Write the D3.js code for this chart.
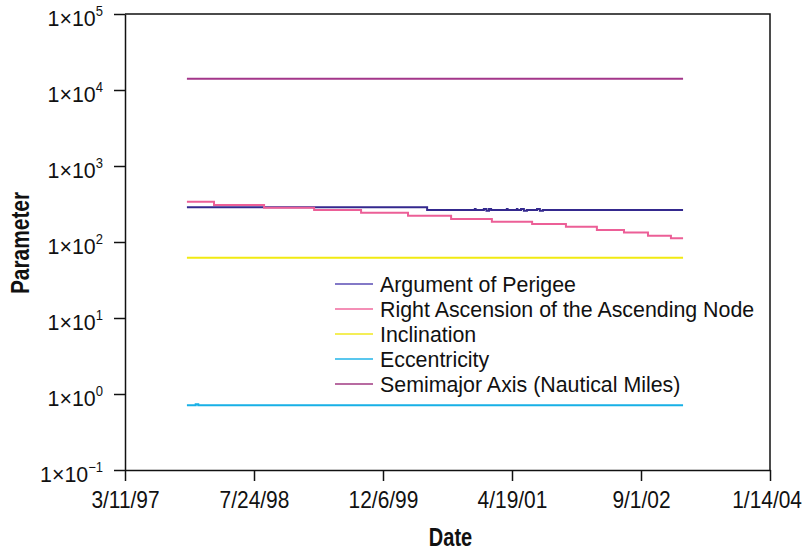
<!DOCTYPE html>
<html>
<head>
<meta charset="utf-8">
<script src="https://cdn.jsdelivr.net/npm/d3@7"></script>
<style>
  html, body { margin: 0; padding: 0; background: #fff; }
  svg { display: block; }
  text { font-family: "Liberation Sans", Arial, Helvetica, sans-serif; fill: #111; }
</style>
</head>
<body>
<svg id="chart" width="803" height="552"></svg>
<script>
// ---- Orbital element history (step changes between element-set updates) ----
const xTickDates  = ["1997-03-11", "1998-07-24", "1999-12-06", "2001-04-19", "2002-09-01", "2004-01-14"];
const xTickLabels = ["3/11/97", "7/24/98", "12/6/99", "4/19/01", "9/1/02", "1/14/04"];
const yTickValues = [1e-1, 1e0, 1e1, 1e2, 1e3, 1e4, 1e5];
const yTickExps   = ["\u22121", "0", "1", "2", "3", "4", "5"];

const seriesNames = [
  "Argument of Perigee",
  "Right Ascension of the Ascending Node",
  "Inclination",
  "Eccentricity",
  "Semimajor Axis (Nautical Miles)"
];
const seriesColors = ["#34298e", "#ec5f97", "#f1ea12", "#17b0e6", "#a3368a"];
const legendColors = ["#5a4cb4", "#f06a9e", "#f0e820", "#22b4e8", "#a03a82"];

const perigeeDates  = ["1997-11-06", "2000-05-25", "2000-11-26", "2000-11-29", "2000-12-31", "2001-01-10",
                       "2001-01-20", "2001-01-28", "2001-03-30", "2001-04-02", "2001-05-08", "2001-05-10",
                       "2001-05-24", "2001-06-04", "2001-06-16", "2001-07-25", "2001-08-05", "2001-08-17",
                       "2003-02-11"];
const perigeeValues = [286, 264, 272, 264, 272, 257,
                       272, 264, 272, 264, 272, 264,
                       272, 257, 264, 272, 257, 264,
                       264];

const raanDates  = ["1997-11-06", "1998-02-19", "1998-09-01", "1999-03-14", "1999-09-12", "2000-03-12",
                    "2000-08-26", "2001-01-31", "2001-07-06", "2001-11-14", "2002-03-14", "2002-06-27",
                    "2002-09-28", "2002-12-26", "2003-02-11"];
const raanValues = [339, 307, 283, 264, 243, 222,
                    201, 185, 172, 159, 144, 133,
                    121, 112, 112];

const inclinationDates  = ["1997-11-06", "2003-02-11"];
const inclinationValues = [62, 62];

const eccentricityDates  = ["1997-11-06", "1997-12-10", "1997-12-20", "2003-02-11"];
const eccentricityValues = [0.71, 0.735, 0.71, 0.71];

const semimajorDates  = ["1997-11-06", "2003-02-11"];
const semimajorValues = [14090, 14090];

// ---- Layout ----
const W = 803, H = 552;
const margin = { top: 14, right: 33, bottom: 82, left: 125 };
const iw = W - margin.left - margin.right;
const ih = H - margin.top - margin.bottom;
const parse = d3.utcParse("%Y-%m-%d");

const svg = d3.select("#chart");
const g = svg.append("g").attr("transform", `translate(${margin.left},${margin.top})`);

const x = d3.scaleUtc()
  .domain([parse(xTickDates[0]), parse(xTickDates[xTickDates.length - 1])])
  .range([0, iw]);
const y = d3.scaleLog().domain([1e-1, 1e5]).range([ih, 0]);

const REG = 23, SX = 0.93;

// Frame (top and right edges)
g.append("path")
  .attr("d", `M0,0H${iw}V${ih}`)
  .attr("fill", "none").attr("stroke", "#111").attr("stroke-width", 1.5);

// Y axis
const yAxis = g.append("g")
  .call(d3.axisLeft(y).tickValues(yTickValues).tickSize(11).tickSizeOuter(0).tickFormat(() => ""));
yAxis.selectAll("path, line").attr("stroke", "#111").attr("stroke-width", 1.5);
yAxis.selectAll(".tick").each(function (d, i) {
  const t = d3.select(this).append("g")
    .attr("transform", `translate(-22,11) scale(${SX},1)`)
    .append("text")
    .attr("text-anchor", "end")
    .attr("font-size", REG);
  t.append("tspan").text("1\u00d710");
  t.append("tspan").attr("dy", -10).attr("font-size", 14).text(yTickExps[i]);
});

// X axis
const xAxis = g.append("g")
  .attr("transform", `translate(0,${ih})`)
  .call(d3.axisBottom(x).tickValues(xTickDates.map(parse)).tickSize(11).tickSizeOuter(0).tickFormat(() => ""));
xAxis.selectAll("path, line").attr("stroke", "#111").attr("stroke-width", 1.5);
xAxis.selectAll(".tick").each(function (d, i) {
  const lab = d3.select(this).append("g")
    .attr("transform", `translate(0,38) scale(0.91,1)`);
  const txt = lab.append("text")
    .attr("text-anchor", "middle")
    .attr("font-size", REG)
    .text(xTickLabels[i]);
  // keep the last label inside the drawing
  const bb = txt.node().getBoundingClientRect();
  const over = bb.right - (W - 1);
  if (over > 0) lab.attr("transform", `translate(${-over},38) scale(0.91,1)`);
});

// Axis titles
svg.append("g")
  .attr("transform", `translate(${margin.left + iw / 2 + 3},546) scale(0.8,1)`)
  .append("text").attr("text-anchor", "middle")
  .attr("font-size", 25).attr("font-weight", "bold").text("Date");
svg.append("g")
  .attr("transform", `translate(28.5,243) rotate(-90) scale(0.82,1)`)
  .append("text").attr("text-anchor", "middle")
  .attr("font-size", 25.5).attr("font-weight", "bold").text("Parameter");

// Series
const series = [
  [perigeeDates, perigeeValues],
  [raanDates, raanValues],
  [inclinationDates, inclinationValues],
  [eccentricityDates, eccentricityValues],
  [semimajorDates, semimajorValues]
];
const line = d3.line()
  .x(d => x(d[0]))
  .y(d => y(d[1]))
  .curve(d3.curveStepAfter);

// draw order: lower series first, Semimajor on top
[2, 3, 0, 1, 4].forEach(k => {
  const [dates, vals] = series[k];
  const pts = dates.map((s, j) => [parse(s), vals[j]]);
  g.append("path")
    .datum(pts)
    .attr("d", line)
    .attr("fill", "none")
    .attr("stroke", seriesColors[k])
    .attr("stroke-width", 2);
});

// Legend
const legend = svg.append("g").attr("transform", "translate(335,284)");
seriesNames.forEach((name, i) => {
  const row = legend.append("g").attr("transform", `translate(0,${i * 25})`);
  row.append("line")
    .attr("x1", 0).attr("x2", 38).attr("y1", 0).attr("y2", 0)
    .attr("stroke", legendColors[i]).attr("stroke-width", 1.4);
  row.append("g")
    .attr("transform", `translate(45,7.5) scale(0.93,1)`)
    .append("text").attr("font-size", REG).text(name);
});
</script>
</body>
</html>
